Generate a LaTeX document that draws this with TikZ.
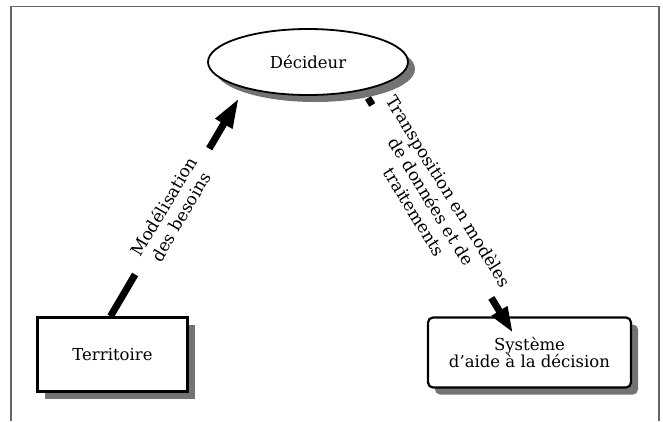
\documentclass[tikz,border=0pt]{standalone}
\usepackage{fontspec}
\setmainfont{DejaVu Serif}
\usetikzlibrary{shapes.geometric,shadows,arrows.meta}

\begin{document}
\begin{tikzpicture}[x=1pt,y=-1pt,
    ombre/.style={drop shadow={shadow xshift=7pt,shadow yshift=-7pt,opacity=1,fill=black!55}},
    boite/.style={draw,fill=white,line width=2.4pt,inner sep=0pt,align=center,
                  font=\fontsize{16.5}{15.5}\selectfont},
    fleche/.style={line width=7pt},
    etiq/.style={sloped,align=center,inner ysep=0pt,font=\fontsize{17}{20}\selectfont}]
   \useasboundingbox (0,0) rectangle (663,421);
   \draw[black!60,line width=1.5pt] (11,421) -- (11,6.5) -- (659,6.5) -- (659,421);
   \node[boite,ellipse,ombre,line width=1.8pt,minimum width=200pt,minimum height=66pt] (dec) at (308,62) {Décideur};
   \node[boite,ombre,minimum width=150pt,minimum height=74pt] (terr) at (112.5,354.5) {Territoire};
   \node[boite,ombre,rounded corners=5pt,line width=2.2pt,minimum width=203pt,minimum height=70pt] (sad) at (529.5,352.5) {Système\\d'aide à la décision};
   % texts on the two links
   \path ([xshift=-2pt]terr.north) -- node[etiq,pos=0.48,inner xsep=17pt] (modl) {Modélisation\\des besoins} ([xshift=-69pt,yshift=-36pt]dec.center);
   \path ([xshift=60pt,yshift=-36pt]dec.center) -- node[etiq,pos=0.44,inner xsep=2.5pt] (trsp) {Transposition en modèles\\de données et de\\traitements} ([xshift=-16.5pt,yshift=19.5pt]sad.center);
   % links
   \draw[fleche] ([xshift=-2pt]terr.north) -- (modl.west);
   \draw[fleche,-{Triangle[length=30pt,width=18pt]}] (modl.east) -- ([xshift=-69pt,yshift=-36pt]dec.center);
   \draw[fleche] ([xshift=60pt,yshift=-36pt]dec.center) -- (trsp.west);
   \draw[fleche,-{Triangle[length=26pt,width=17pt]}] (trsp.east) -- ([xshift=-16.5pt,yshift=19.5pt]sad.center);
\end{tikzpicture}
\end{document}
